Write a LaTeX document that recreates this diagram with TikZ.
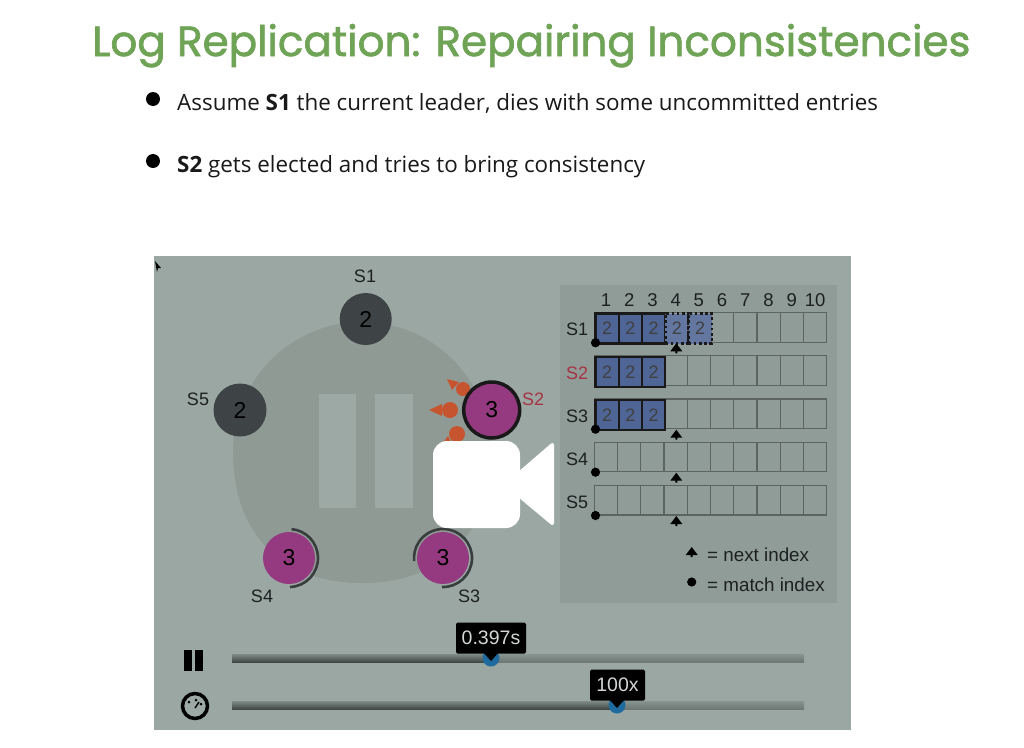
\documentclass[tikz,border=0pt]{standalone}
\usepackage{fontspec}
\setmainfont{Open Sans}
\newfontfamily\titlefont[FakeBold=1.6]{Poppins}
\newfontfamily\labelfont{Liberation Sans}
\usetikzlibrary{arrows.meta,calc}
\definecolor{videobg}{HTML}{9AA7A2}
\definecolor{panelbg}{HTML}{8F9C97}
\definecolor{blobc}{HTML}{8F9A95}
\definecolor{barc}{HTML}{9CA9A4}
\definecolor{titlegreen}{HTML}{6FA356}
\definecolor{darkgray}{HTML}{3E4445}
\definecolor{magentac}{HTML}{953A80}
\definecolor{orangec}{HTML}{C6552F}
\definecolor{bluec}{HTML}{4E6595}
\definecolor{blued}{HTML}{62769F}
\definecolor{redc}{HTML}{A83245}
\definecolor{cellc}{HTML}{5B6462}
\definecolor{trackc}{HTML}{6D7875}
\definecolor{handlec}{HTML}{1F6A9E}
\definecolor{inkc}{HTML}{1C2021}
\tikzset{
  x=1pt,y=-1pt,
  lbl/.style={font=\labelfont\fontsize{18}{18}\selectfont,text=inkc,inner sep=0pt},
  idx/.style={font=\labelfont\fontsize{18.5}{18}\selectfont,text=inkc,inner sep=0pt},
  srv/.style={circle,inner sep=0pt,minimum size=#1,font=\labelfont\fontsize{23}{23}\selectfont,text=black},
  cellbox/.style={draw=cellc,line width=1.3pt},
  logbox/.style={draw=black!90,line width=2.4pt,fill=bluec},
  dotbox/.style={draw=black!90,line width=2.6pt,dash pattern=on 2.6pt off 2.6pt,fill=blued},
  tip/.style={fill=black,rounded corners=1.5pt,inner sep=0pt,text=white!55!videobg,font=\labelfont\fontsize{19.5}{19}\selectfont},
  bullettext/.style={anchor=base west,inner sep=0pt,font=\fontsize{22.4}{26}\selectfont,text=black!90},
  cellnum/.style={minimum width=23.24pt,inner sep=0pt,anchor=north west,font=\labelfont\fontsize{18}{18}\selectfont,text=black!75},
  nextmark/.pic={
    \fill[black] (0,0) -- (6,8) -- (1,8) -- (1,10) -- (-1,10) -- (-1,8) -- (-6,8) -- cycle;
  },
}
\begin{document}
\begin{tikzpicture}
\useasboundingbox (0,0) rectangle (1024,747);
\fill[white] (0,0) rectangle (1024,747);
\node[anchor=base west,inner sep=0pt,text=titlegreen,font=\titlefont\fontsize{42.1}{46}\selectfont] (title) at (92,56) {Log Replication: Repairing Inconsistencies};
\fill[black] (153,99) circle (7);
\fill[black] (153,161) circle (7);
\node[bullettext] (b1) at (177,110) {Assume \textbf{S1} the current leader, dies with some uncommitted entries};
\node[bullettext] (b2) at (177,172) {\textbf{S2} gets elected and tries to bring consistency};
% video frame
\fill[videobg] (154,256) rectangle (851,730);
\fill[black] (155,261) -- (161,268) -- (158,268) -- (157,272) -- cycle;
\fill[blobc] (362,322) .. controls (433,322) and (491,380) .. (491,452)
  .. controls (491,536) and (440,583) .. (362,583)
  .. controls (284,583) and (233,536) .. (233,452)
  .. controls (233,380) and (291,322) .. (362,322) -- cycle;
\fill[barc] (319,394) rectangle (356,508);
\fill[barc] (375,394) rectangle (413,508);
% request messages
\fill[orangec] (463,389) circle (7);
\fill[orangec] (450,410) circle (8);
\fill[orangec] (457,434) circle (8);
\fill[orangec] (447,379) -- (459,382) -- (452,390) -- cycle;
\fill[orangec] (429,410) -- (442,404) -- (442,416) -- cycle;
\fill[orangec] (442,444) -- (448,436) -- (453,446) -- cycle;
% servers
\node[srv=52pt,fill=darkgray] (s1) at (365.7,319) {2};
\node[srv=53pt,fill=darkgray] (s5) at (240,410) {2};
\node[srv=56pt,fill=magentac,draw=black!90,line width=3.5pt] (s2) at (491.7,410) {3};
\node[srv=52pt,fill=magentac] (s4) at (289,558) {3};
\node[srv=52pt,fill=magentac] (s3) at (443,558) {3};
\draw[darkgray!90!black,line width=2.6pt] (s4.center) ++(88:29) arc (88:-85:29);
\draw[darkgray!90!black,line width=2.6pt] (s3.center) ++(92:29) arc (92:-186:29);
\node[lbl] (l1) at (365,276) {S1};
\node[lbl] (l5) at (198,399) {S5};
\node[lbl,text=redc] (l2) at (533,399) {S2};
\node[lbl] (l4) at (262,596) {S4};
\node[lbl] (l3) at (469,596) {S3};
% log panel
\fill[panelbg] (560,285) rectangle (836.5,603);
\foreach \n in {1,...,10}{
  \node[idx] (h\n) at ({594.3+23.24*(\n-0.5)},300) {\n};
}
\foreach \r/\t/\b in {a/312.3/342.3,b/355.7/385.7,c/399/428.7,d/442.3/471.7,e/485.7/515}{
  \foreach \c in {1,...,10}{
    \draw[cellbox] ({594.3+23.24*(\c-1)},\t) rectangle ({594.3+23.24*\c},\b);
  }
}
\foreach \r/\t in {a/312.3,b/355.7,c/399}{
  \foreach \c in {1,2,3}{
    \node[logbox,cellnum,minimum height=30pt] (lg\r\c) at ({594.3+23.24*(\c-1)},\t) {2};
  }
}
\foreach \c in {4,5}{
  \node[dotbox,cellnum,minimum height=30pt] (dt\c) at ({594.3+23.24*(\c-1)},312.3) {2};
}
\node[lbl] (r1) at (577,329) {S1};
\node[lbl,text=redc] (r2) at (577,373) {S2};
\node[lbl] (r3) at (577,416) {S3};
\node[lbl] (r4) at (577,459) {S4};
\node[lbl] (r5) at (577,502) {S5};
% match and next markers
\foreach \y in {342.3,428.7,471.7,515}{
  \fill[black] (595.5,\y+0.5) circle (4.6);
  \pic at (676.3,\y+1) {nextmark};
}
\pic at (691.7,547) {nextmark};
\fill[black] (691.7,582) circle (4.6);
\node[anchor=west,font=\labelfont\fontsize{18.8}{18}\selectfont,text=inkc,inner sep=0pt] (ln) at (707,555) {= next index};
\node[anchor=west,font=\labelfont\fontsize{18.8}{18}\selectfont,text=inkc,inner sep=0pt] (lm) at (707,585) {= match index};
% sliders
\shade[top color=trackc!60!videobg,bottom color=trackc!60!black] (232,654) rectangle (491,662);
\shade[top color=trackc!40!videobg,bottom color=trackc] (491,654) rectangle (804,662);
\shade[top color=trackc!60!videobg,bottom color=trackc!60!black] (232,701) rectangle (617,709);
\shade[top color=trackc!40!videobg,bottom color=trackc] (617,701) rectangle (804,709);
\fill[black] (184,650) rectangle (192,671);
\fill[black] (195,650) rectangle (203,671);
\draw[black,line width=3.5pt,fill=barc] (195,706) circle (12.5);
\fill[black] (189,702) circle (1.5) (196,700) circle (1.5) (201,704) circle (1.5);
\draw[black,line width=1.4pt] (195,708) -- (199,702);
\fill[handlec] (491,658) circle (8.5);
\fill[handlec] (617,705) circle (8.5);
\node[tip,minimum width=70pt,minimum height=31pt] (t1) at (491,638) {0.397s};
\node[tip,minimum width=55pt,minimum height=31pt] (t2) at (617.5,685) {100x};
\fill[black] (483,652) -- (499,652) -- (491,661) -- cycle;
\fill[black] (609,699) -- (625,699) -- (617,708) -- cycle;
% camera icon
\fill[white,rounded corners=14pt] (433,441) rectangle (520,528);
\fill[white,rounded corners=4pt] (518,472) -- (554,441) -- (554,527) -- (518,497) -- cycle;
\end{tikzpicture}
\end{document}
